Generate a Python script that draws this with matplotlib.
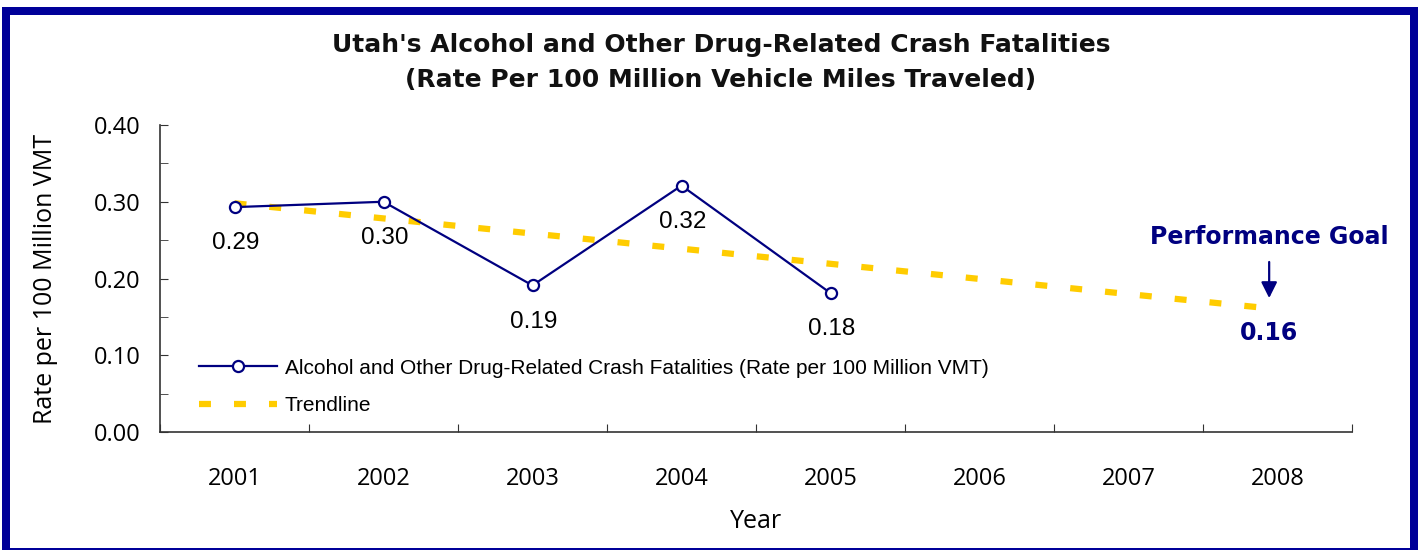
import matplotlib
matplotlib.use("Agg")
import matplotlib.pyplot as plt
from matplotlib.patches import Rectangle
from matplotlib.transforms import offset_copy

years = ["2001", "2002", "2003", "2004", "2005", "2006", "2007", "2008"]
rate_years = ["2001", "2002", "2003", "2004", "2005"]
rate_values = [0.293, 0.300, 0.191, 0.321, 0.181]
rate_labels = ["0.29", "0.30", "0.19", "0.32", "0.18"]
trend_years = ["2001", "2008"]
trend_values = [0.298, 0.160]
goal_year = "2008"
goal_value = 0.16
goal_label = "0.16"

NAVY = "#000080"
GOLD = "#FFCC00"
BORDER = "#000099"
plt.rcParams["lines.scale_dashes"] = False

W, H = 1422, 552
fig = plt.figure(figsize=(W / 100, H / 100), dpi=100)
ax = fig.add_axes([160 / W, 1 - 432 / H, (1352 - 160) / W, (432 - 125) / H])

xpos = {y: i for i, y in enumerate(years)}

tl, = ax.plot([xpos[y] for y in trend_years], trend_values, color=GOLD, lw=4.5,
              dashes=(8.6, 16.6), solid_capstyle="butt", dash_capstyle="butt", zorder=2)
dl, = ax.plot([xpos[y] for y in rate_years], rate_values, color=NAVY, lw=1.6,
              marker="o", ms=8, mfc="white", mec=NAVY, mew=1.6, zorder=3)

for y, v, lab in zip(rate_years, rate_values, rate_labels):
    ax.annotate(lab, (xpos[y], v), xytext=(1, -26), textcoords="offset points",
                ha="center", va="center", fontsize=17.5, family="Liberation Sans", color="black")

gx = xpos[goal_year]
tip = offset_copy(ax.transData, fig=fig, x=-6, y=8, units="points")
tail = offset_copy(ax.transData, fig=fig, x=-6, y=34, units="points")
ax.annotate("", xy=(gx, goal_value), xycoords=tip, xytext=(gx, goal_value), textcoords=tail,
            arrowprops=dict(arrowstyle="-|>", color=NAVY, lw=1.6,
                            mutation_scale=24, shrinkA=0, shrinkB=0))
ax.annotate("Performance Goal", (gx, goal_value), xytext=(-6, 52), textcoords="offset points",
            ha="center", va="center", fontsize=17, fontweight="bold", color=NAVY, family="DejaVu Sans")
ax.annotate(goal_label, (gx, goal_value), xytext=(-6, -17), textcoords="offset points",
            ha="center", va="center", fontsize=17, fontweight="bold", color=NAVY, family="DejaVu Sans")

ax.set_xlim(-0.5, len(years) - 0.5)
ax.set_ylim(0, 0.40)
ax.set_xticks([i - 0.5 for i in range(len(years) + 1)])
ax.set_xticklabels([])
ax.set_xticks(range(len(years)), minor=True)
ax.set_xticklabels(years, minor=True, fontsize=17, family="Open Sans")
ax.tick_params(axis="x", which="major", direction="in", length=6, color="#333333")
ax.tick_params(axis="x", which="minor", length=0, pad=25)
ax.set_yticks([0, 0.1, 0.2, 0.3, 0.4])
ax.set_yticklabels(["0.00", "0.10", "0.20", "0.30", "0.40"], fontsize=17, family="Open Sans")
ax.set_yticks([0.05, 0.15, 0.25, 0.35], minor=True)
ax.tick_params(axis="y", which="both", direction="in", length=6, pad=14, color="#333333")
for s in ["top", "right"]:
    ax.spines[s].set_visible(False)
for s in ["left", "bottom"]:
    ax.spines[s].set_color("#333333")
    ax.spines[s].set_linewidth(1.2)

ax.set_xlabel("Year", fontsize=18, family="Open Sans", labelpad=13)
ax.set_ylabel("Rate per 100 Million VMT", fontsize=18, family="Open Sans", labelpad=26)

leg = ax.legend([dl, tl], ["Alcohol and Other Drug-Related Crash Fatalities (Rate per 100 Million VMT)",
                           "Trendline"],
                loc="upper left", bbox_to_anchor=(0.0168, 0.30), frameon=False,
                prop={"family": "Liberation Sans", "size": 15}, handlelength=3.75,
                handletextpad=0.38, labelspacing=0.9)

fig.text(721 / W, 1 - 45 / H, "Utah's Alcohol and Other Drug-Related Crash Fatalities",
         ha="center", va="center", fontsize=18, fontweight="bold", family="DejaVu Sans", color="#111111")
fig.text(721 / W, 1 - 80 / H, "(Rate Per 100 Million Vehicle Miles Traveled)",
         ha="center", va="center", fontsize=18, fontweight="bold", family="DejaVu Sans", color="#111111")

for (x0, y0, x1, y1) in [(2, 7, 10, 550), (2, 7, 1418, 15), (1410, 7, 1418, 550), (2, 548, 1418, 550)]:
    fig.add_artist(Rectangle((x0 / W, 1 - y1 / H), (x1 - x0) / W, (y1 - y0) / H,
                             transform=fig.transFigure, color=BORDER, lw=0))

fig.savefig("out.png", dpi=100)
